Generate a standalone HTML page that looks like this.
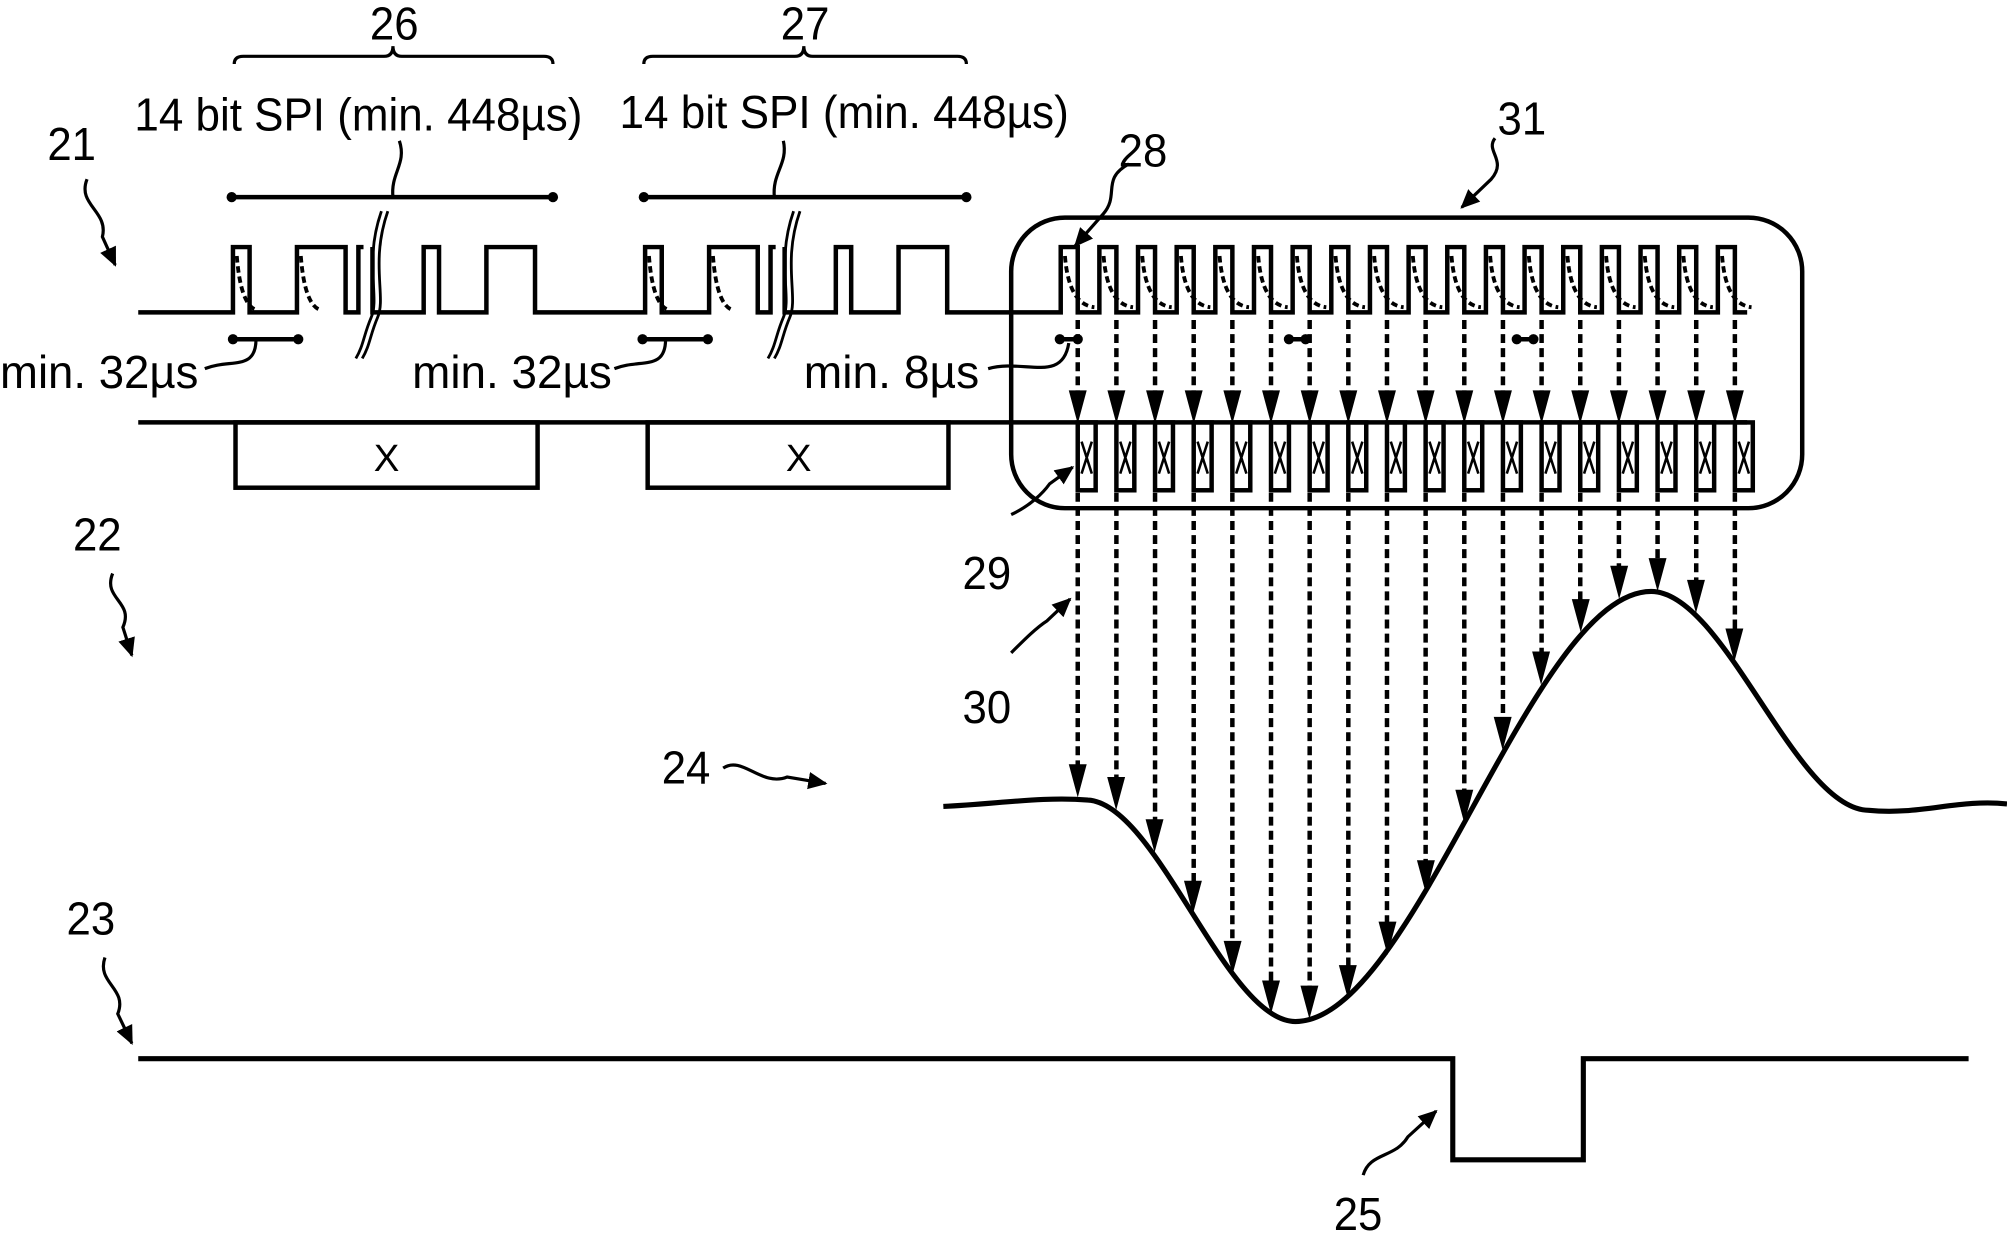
<!DOCTYPE html>
<html><head><meta charset="utf-8"><style>
html,body{margin:0;padding:0;background:#fff}
svg{display:block}
text{font-family:"Liberation Sans Narrow","Liberation Sans",sans-serif;fill:#000}
</style></head><body>
<svg width="2007" height="1234" viewBox="0 0 1568 964" preserveAspectRatio="none" xmlns="http://www.w3.org/2000/svg">
<defs>
<marker id="ah" viewBox="0 0 10 10" refX="9" refY="5" markerWidth="6" markerHeight="6" orient="auto"><path d="M0,0.5 L10,5 L0,9.5 z"/></marker>
<g id="u">
<path d="M-10,200 Q-7,238 13,240" fill="none" stroke="#000" stroke-width="3" stroke-dasharray="5 3"/>
<path d="M0,250 V310" stroke="#000" stroke-width="3.5" stroke-dasharray="7 4"/>
<polygon points="-7,305 7,305 0,331"/>
<rect x="0" y="330" width="14" height="53" fill="none" stroke="#000" stroke-width="3.5"/>
<path d="M3,345 L11,370 M11,345 L3,370" stroke="#000" stroke-width="2"/>
</g>
</defs>
<g fill="none" stroke="#000" stroke-width="3.5">
<path d="M183,50 Q183,44 190,44 H300 Q307,44 307,36 Q307,44 314,44 H425 Q432,44 432,50" stroke-width="2.5"/>
<path d="M503,50 Q503,44 510,44 H621 Q628,44 628,36 Q628,44 635,44 H748 Q755,44 755,50" stroke-width="2.5"/>
<path d="M181,154 H432 M503,154 H755"/>
<path d="M307,154 C305,135 318,128 312,110" stroke-width="2.5"/>
<path d="M605,154 C603,135 616,128 612,110" stroke-width="2.5"/>
<path d="M182,265 H233 M502,265 H553"/>
<path d="M200,265 C200,290 180,280 160,288" stroke-width="2.5"/>
<path d="M520,265 C520,290 500,280 480,288" stroke-width="2.5"/>
<path d="M835,268 C830,300 800,280 772,288" stroke-width="2.5"/>
<path d="M828,265 H842 M1007,265 H1020 M1185,265 H1198"/>
<path d="M108,244 H182 V193 H195 V244 H232 V193 H270 V244 H280 V193 H284 M291,193 V244 H331 V193 H343 V244 H380 V193 H418 V244 H504 V193 H517 V244 H554 V193 H592 V244 H602 V193 H606 M613,193 V244 H653 V193 H665 V244 H702 V193 H740 V244 H828.7 V193 h13.3 V244 h16.9 V193 h13.3 V244 h16.9 V193 h13.3 V244 h16.9 V193 h13.3 V244 h16.9 V193 h13.3 V244 h16.9 V193 h13.3 V244 h16.9 V193 h13.3 V244 h16.9 V193 h13.3 V244 h16.9 V193 h13.3 V244 h16.9 V193 h13.3 V244 h16.9 V193 h13.3 V244 h16.9 V193 h13.3 V244 h16.9 V193 h13.3 V244 h16.9 V193 h13.3 V244 h16.9 V193 h13.3 V244 h16.9 V193 h13.3 V244 h16.9 V193 h13.3 V244 h16.9 V193 h13.3 V244 H1365"/>
<path d="M185,200 Q188,238 200,242 M235,200 Q238,238 250,242 M507,200 Q510,238 522,242 M557,200 Q560,238 572,242" stroke-width="3" stroke-dasharray="5 3"/>
<path d="M298,165 C284,205 297,232 290,248 C284,262 284,270 278,280" stroke-width="2.2"/>
<path d="M303,165 C289,205 302,232 295,248 C289,262 289,270 283,280" stroke-width="2.2"/>
<path d="M620,165 C606,205 619,232 612,248 C606,262 606,270 600,280" stroke-width="2.2"/>
<path d="M625,165 C611,205 624,232 617,248 C611,262 611,270 605,280" stroke-width="2.2"/>
<path d="M108,330 H1365"/>
<rect x="184" y="330" width="236" height="51"/>
<rect x="506" y="330" width="235" height="51"/>
<rect x="790" y="170" width="618" height="227" rx="42"/>
<path d="M737,630 C780,628 815,622 850,625 C904,628 958,798 1012,798 C1105,798 1197,462 1290,462 C1347,462 1403,633 1460,633 C1500,637 1530,624 1568,628" stroke-width="4"/>
<path d="M108,827 H1135 V906 H1237 V827 H1538" stroke-width="4"/>
<g stroke-dasharray="7 4">
<path d="M842,385 V600 M872.2,385 V610 M902.4,385 V643 M932.6,385 V691 M962.8,385 V738 M993,385 V769 M1023.2,385 V773 M1053.4,385 V757 M1083.6,385 V723 M1113.8,385 V675 M1144,385 V620 M1174.2,385 V563 M1204.4,385 V512 M1234.6,385 V471 M1264.8,385 V445 M1295,385 V439 M1325.2,385 V456 M1355.4,385 V494"/>
</g>
<g stroke-width="2.5">
<path d="M68,140 C60,160 85,165 80,185 L90,207" marker-end="url(#ah)"/>
<path d="M88,448 C80,468 105,470 96,490 L103,512" marker-end="url(#ah)"/>
<path d="M82,748 C75,768 100,772 92,792 L103,815" marker-end="url(#ah)"/>
<path d="M565,600 C580,590 595,615 615,607 L645,612" marker-end="url(#ah)"/>
<path d="M1065,918 C1070,900 1090,905 1100,888 L1122,868" marker-end="url(#ah)"/>
<path d="M882,128 C860,140 875,152 862,167 L840,192" marker-end="url(#ah)"/>
<path d="M790,402 C805,395 815,385 820,378 L838,365" marker-end="url(#ah)"/>
<path d="M790,510 C800,500 810,490 818,485 L836,468" marker-end="url(#ah)"/>
<path d="M1168,108 C1160,118 1178,125 1165,140 L1142,162" marker-end="url(#ah)"/>
</g>
</g>
<g>
<circle cx="181" cy="154" r="4"/><circle cx="432" cy="154" r="4"/><circle cx="503" cy="154" r="4"/><circle cx="755" cy="154" r="4"/>
<circle cx="182" cy="265" r="4"/><circle cx="233" cy="265" r="4"/><circle cx="502" cy="265" r="4"/><circle cx="553" cy="265" r="4"/>
<circle cx="828" cy="265" r="4"/><circle cx="842" cy="265" r="4"/><circle cx="1007" cy="265" r="4"/><circle cx="1020" cy="265" r="4"/><circle cx="1185" cy="265" r="4"/><circle cx="1198" cy="265" r="4"/>
<polygon points="835,597 849,597 842,623"/><polygon points="865,607 879,607 872,633"/><polygon points="895,640 909,640 902,666"/><polygon points="925,688 939,688 932,714"/><polygon points="956,735 970,735 963,761"/><polygon points="986,766 1000,766 993,792"/><polygon points="1016,770 1030,770 1023,796"/><polygon points="1046,754 1060,754 1053,780"/><polygon points="1077,720 1091,720 1084,746"/><polygon points="1107,672 1121,672 1114,698"/><polygon points="1137,617 1151,617 1144,643"/><polygon points="1167,560 1181,560 1174,586"/><polygon points="1197,509 1211,509 1204,535"/><polygon points="1228,468 1242,468 1235,494"/><polygon points="1258,442 1272,442 1265,468"/><polygon points="1288,436 1302,436 1295,462"/><polygon points="1318,453 1332,453 1325,479"/><polygon points="1348,491 1362,491 1355,517"/>
</g>
<use href="#u" x="842"/><use href="#u" x="872.2"/><use href="#u" x="902.4"/><use href="#u" x="932.6"/><use href="#u" x="962.8"/><use href="#u" x="993"/><use href="#u" x="1023.2"/><use href="#u" x="1053.4"/><use href="#u" x="1083.6"/><use href="#u" x="1113.8"/><use href="#u" x="1144"/><use href="#u" x="1174.2"/><use href="#u" x="1204.4"/><use href="#u" x="1234.6"/><use href="#u" x="1264.8"/><use href="#u" x="1295"/><use href="#u" x="1325.2"/><use href="#u" x="1355.4"/>
<g font-size="36">
<text x="289" y="31" textLength="38" lengthAdjust="spacingAndGlyphs">26</text>
<text x="610" y="31" textLength="38" lengthAdjust="spacingAndGlyphs">27</text>
<text x="105" y="102" textLength="350" lengthAdjust="spacingAndGlyphs">14 bit SPI (min. 448µs)</text>
<text x="484" y="100" textLength="351" lengthAdjust="spacingAndGlyphs">14 bit SPI (min. 448µs)</text>
<text x="0" y="303" textLength="155" lengthAdjust="spacingAndGlyphs">min. 32µs</text>
<text x="322" y="303" textLength="156" lengthAdjust="spacingAndGlyphs">min. 32µs</text>
<text x="628" y="303" textLength="137" lengthAdjust="spacingAndGlyphs">min. 8µs</text>
<text x="37" y="125" textLength="38" lengthAdjust="spacingAndGlyphs">21</text>
<text x="57" y="430" textLength="38" lengthAdjust="spacingAndGlyphs">22</text>
<text x="52" y="730" textLength="38" lengthAdjust="spacingAndGlyphs">23</text>
<text x="517" y="612" textLength="38" lengthAdjust="spacingAndGlyphs">24</text>
<text x="1042" y="961" textLength="38" lengthAdjust="spacingAndGlyphs">25</text>
<text x="874" y="130" textLength="38" lengthAdjust="spacingAndGlyphs">28</text>
<text x="752" y="460" textLength="38" lengthAdjust="spacingAndGlyphs">29</text>
<text x="752" y="565" textLength="38" lengthAdjust="spacingAndGlyphs">30</text>
<text x="1170" y="105" textLength="38" lengthAdjust="spacingAndGlyphs">31</text>
<text x="292" y="368" font-size="30">X</text>
<text x="614" y="368" font-size="30">X</text>
</g>
</svg>
</body></html>
